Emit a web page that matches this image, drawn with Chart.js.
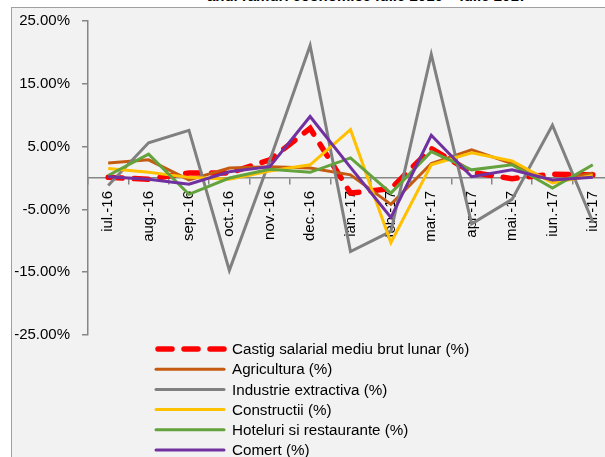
<!DOCTYPE html>
<html>
<head>
<meta charset="utf-8">
<script src="https://cdn.jsdelivr.net/npm/chart.js@4.4.1/dist/chart.umd.min.js"></script>
<style>
  html, body { margin: 0; padding: 0; width: 605px; height: 457px; overflow: hidden; background: #fff; }
  #box { position: absolute; left: 11px; top: 7px; width: 1000px; height: 1000px; border: 1px solid #a0a0a0; background: #f2f2f2; }
  #title { position: absolute; left: 0; top: -12px; width: 734px; text-align: center; font: bold 15px "Liberation Sans", Arial, sans-serif; line-height: 15px; color: #000; white-space: nowrap; }
  #wrap { position: absolute; left: 0; top: 0; width: 630px; height: 470px; }
</style>
</head>
<body>
<div id="title">anul ramuri economice iulie 2016 – iulie 2017</div>
<div id="box"></div>
<div id="wrap"><canvas id="myChart"></canvas></div>
<script>
// Categories (months)
const luni = ['iul.-16', 'aug.-16', 'sep.-16', 'oct.-16', 'nov.-16', 'dec.-16',
  'ian.-17', 'feb.-17', 'mar.-17', 'apr.-17', 'mai.-17', 'iun.-17', 'iul.-17'];

// Series values (%)
const castig = [0.1, -0.2, 0.8, 0.8, 2.9, 7.9, -2.4, -1.7, 4.7, 0.9, -0.1, 0.6, 0.5];
const agricultura = [2.4, 2.9, -0.3, 1.6, 1.8, 1.6, 0.5, -4.2, 2.3, 4.5, 2.3, -0.5, 0.8];
const industrie = [-1.2, 5.6, 7.6, -14.7, 2.8, 21.1, -11.7, -8.5, 19.7, -7.3, -3.4, 8.4, -7.0];
const constructii = [1.5, 0.9, 0.1, -0.2, 1.1, 2.1, 7.7, -10.3, 2.1, 4.0, 2.7, -0.8, 0.4];
const hoteluri = [0.4, 3.8, -2.6, 0.0, 1.4, 0.9, 3.2, -2.4, 4.2, 1.3, 2.1, -1.6, 2.1];
const comert = [0.2, -0.2, -1.0, 1.0, 1.8, 9.8, 1.7, -6.3, 6.8, 0.2, 1.3, -0.3, 0.1];

// Axis range
const yMin = -25;
const yMax = 25;
const yStep = 10;

const fontFam = '"Liberation Sans", Arial, sans-serif';
Chart.defaults.font.family = fontFam;
Chart.defaults.font.size = 15;
Chart.defaults.color = '#000';

// Legend drawn as a vertical list under the plot
const listLegend = {
  id: 'listLegend',
  afterDraw(chart) {
    const ctx = chart.ctx;
    ctx.save();
    chart.data.datasets.forEach((ds, i) => {
      const y = 349 + i * 20.2;
      ctx.beginPath();
      ctx.strokeStyle = ds.borderColor;
      ctx.lineWidth = ds.borderDash ? 5.5 : 3;
      ctx.lineCap = 'round';
      ctx.setLineDash(ds.borderDash ? [14, 12] : []);
      ctx.moveTo(ds.borderDash ? 158 : 156, y);
      ctx.lineTo(224, y);
      ctx.stroke();
      ctx.setLineDash([]);
      ctx.fillStyle = '#000';
      ctx.font = '15.2px ' + fontFam;
      ctx.textBaseline = 'middle';
      ctx.textAlign = 'left';
      ctx.fillText(ds.label, 232, y + 1);
    });
    ctx.restore();
  }
};

const mk = (label, data, color, order, extra) => Object.assign({
  label: label,
  data: data,
  borderColor: color,
  backgroundColor: color,
  borderWidth: 3,
  pointRadius: 0,
  tension: 0,
  fill: false,
  order: order
}, extra || {});

const myChart = new Chart(document.getElementById('myChart'), {
  type: 'line',
  data: {
    labels: luni,
    datasets: [
      mk('Castig salarial mediu brut lunar (%)', castig, '#ff0000', 6, { borderWidth: 5.5, borderDash: [14, 12], borderCapStyle: 'round' }),
      mk('Agricultura (%)', agricultura, '#c55a11', 5),
      mk('Industrie extractiva (%)', industrie, '#808080', 4),
      mk('Constructii (%)', constructii, '#ffc000', 3),
      mk('Hoteluri si restaurante (%)', hoteluri, '#64a23e', 2),
      mk('Comert (%)', comert, '#7030a0', 1)
    ]
  },
  options: {
    responsive: true,
    maintainAspectRatio: false,
    animation: false,
    layout: { padding: { left: 0, top: 19, right: 17, bottom: 135 } },
    plugins: { legend: { display: false }, tooltip: { enabled: false } },
    scales: {
      x: {
        position: { y: 0 },
        offset: true,
        grid: { display: true, offset: true, drawOnChartArea: false, tickLength: 6, color: '#868686', lineWidth: 1.5 },
        border: { display: true, color: '#868686', width: 1.5 },
        ticks: { minRotation: 90, maxRotation: 90, padding: 7, autoSkip: false, font: { size: 15 } }
      },
      y: {
        min: yMin,
        max: yMax,
        afterFit: (s) => { s.width = 88; },
        grid: { display: true, drawOnChartArea: false, tickLength: 6, color: '#868686', lineWidth: 1.5 },
        border: { display: true, color: '#868686', width: 1.5 },
        ticks: { stepSize: yStep, padding: 12, font: { size: 15 }, callback: (v) => v.toFixed(2) + '%' }
      }
    }
  },
  plugins: [listLegend]
});
</script>
</body>
</html>
